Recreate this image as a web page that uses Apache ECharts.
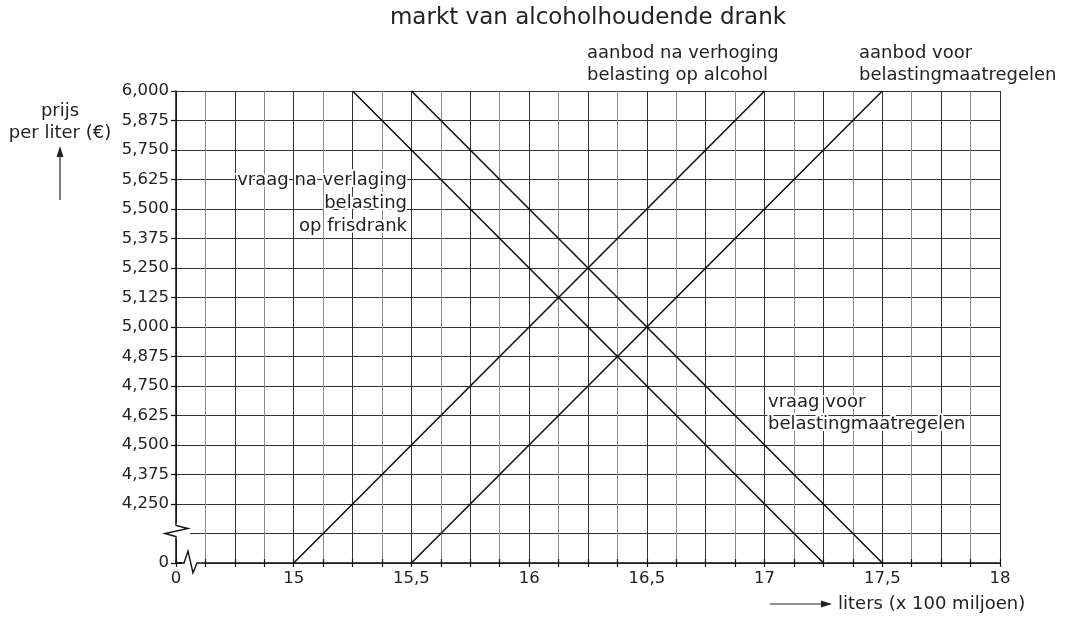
<!DOCTYPE html>
<html>
<head>
<meta charset="utf-8">
<script src="https://cdn.jsdelivr.net/npm/echarts@6/dist/echarts.min.js"></script>
<style>
  html, body { margin: 0; padding: 0; background: #fff; }
  #chart { width: 1068px; height: 619px; }
</style>
</head>
<body>
<div id="chart"></div>
<script>
// broken axes: x 14.5 stands for "0", y 4.0 stands for "0" (4.125 is the break)
var vraagVoor = [[15.5, 6.0], [17.5, 4.0]];
var vraagNa = [[15.25, 6.0], [17.25, 4.0]];
var aanbodVoor = [[15.5, 4.0], [17.5, 6.0]];
var aanbodNa = [[15, 4.0], [17, 6.0]];

var FONT = '"DejaVu Sans", "Liberation Sans", sans-serif';

function fmtX(v) {
    if (Math.abs(v - 14.5) < 1e-6) return '0';
    if (Math.abs(v * 2 - Math.round(v * 2)) < 1e-6) return String(+v.toFixed(1)).replace('.', ',');
    return '';
}
function fmtY(v) {
    if (Math.abs(v - 4) < 1e-6) return '0';
    if (Math.abs(v - 4.125) < 1e-6) return '';
    return v.toFixed(3).replace('.', ',');
}

function lineSeries(data) {
    return {
        type: 'line',
        data: data,
        symbol: 'none',
        z: 5,
        lineStyle: {color: '#111', width: 1.6}
    };
}

var myChart = echarts.init(document.getElementById('chart'));
var option = {
    animation: false,
    backgroundColor: '#fff',
    grid: {left: 176, right: 68, top: 91, bottom: 56},
    xAxis: [
        {
            type: 'value',
            min: 14.5,
            max: 18,
            interval: 0.125,
            axisLine: {lineStyle: {color: '#111', width: 1.5}},
            axisTick: {length: 4, lineStyle: {color: '#111', width: 1.2}},
            axisLabel: {formatter: fmtX, color: '#222', fontSize: 16.5, fontFamily: FONT, margin: 7},
            splitLine: {show: true, lineStyle: {color: ['#333', '#8a8a8a'], width: 1}}
        },
        {
            // inner half of the crossing ticks
            type: 'value',
            position: 'bottom',
            offset: 0,
            min: 14.5,
            max: 18,
            interval: 0.125,
            axisLine: {show: false},
            axisTick: {show: true, inside: true, length: 4, lineStyle: {color: '#111', width: 1.2}},
            axisLabel: {show: false},
            splitLine: {show: false}
        }
    ],
    yAxis: {
        type: 'value',
        min: 4,
        max: 6,
        interval: 0.125,
        axisLine: {show: true, lineStyle: {color: '#111', width: 1.5}},
        axisTick: {show: true, length: 5, lineStyle: {color: '#111', width: 1.2}},
        axisLabel: {formatter: fmtY, color: '#222', fontSize: 16.5, fontFamily: FONT, margin: 7},
        splitLine: {show: true, lineStyle: {color: '#333', width: 1}}
    },
    series: [
        lineSeries(vraagVoor),
        lineSeries(vraagNa),
        lineSeries(aanbodVoor),
        lineSeries(aanbodNa)
    ]
};
myChart.setOption(option);

function txt(x, y, text, align, extra) {
    var s = {
        text: text, x: x, y: y, fill: '#222',
        font: '18px ' + FONT,
        textAlign: align || 'left', textVerticalAlign: 'middle',
        lineHeight: 22
    };
    if (extra) for (var k in extra) s[k] = extra[k];
    return {type: 'text', z: 20, style: s};
}

var p0 = myChart.convertToPixel('grid', [14.5, 4.0]);
var pBreak = myChart.convertToPixel('grid', [14.5, 4.125]);

myChart.setOption({
    graphic: [
        txt(588, 18, 'markt van alcoholhoudende drank', 'center', {font: '23px ' + FONT}),
        txt(587, 64, 'aanbod na verhoging\nbelasting op alcohol', 'left'),
        txt(859, 64, 'aanbod voor\nbelastingmaatregelen', 'left'),
        txt(407, 203, 'vraag na verlaging\nbelasting\nop frisdrank', 'right',
            {stroke: '#fff', lineWidth: 4, lineHeight: 23}),
        txt(768, 413, 'vraag voor\nbelastingmaatregelen', 'left', {stroke: '#fff', lineWidth: 4}),
        txt(60, 122, 'prijs\nper liter (€)', 'center'),
        txt(838, 604, 'liters (x 100 miljoen)', 'left'),
        // axis arrows
        {type: 'line', z: 20, shape: {x1: 60, y1: 200, x2: 60, y2: 154}, style: {stroke: '#222', lineWidth: 1.2}},
        {type: 'polygon', z: 20, shape: {points: [[60, 146], [56.5, 157], [63.5, 157]]}, style: {fill: '#222'}},
        {type: 'line', z: 20, shape: {x1: 770, y1: 604, x2: 824, y2: 604}, style: {stroke: '#222', lineWidth: 1.2}},
        {type: 'polygon', z: 20, shape: {points: [[832, 604], [821, 600.5], [821, 607.5]]}, style: {fill: '#222'}},
        // y-axis break
        {type: 'rect', z: 15, shape: {x: pBreak[0] - 12, y: pBreak[1] - 11, width: 26, height: 17}, style: {fill: '#fff'}},
        {type: 'polyline', z: 16, shape: {points: [
            [pBreak[0], pBreak[1] - 12], [pBreak[0], pBreak[1] - 8], [pBreak[0] + 12, pBreak[1] - 5],
            [pBreak[0] - 11, pBreak[1] + 0], [pBreak[0], pBreak[1] + 3], [pBreak[0], pBreak[1] + 7]
        ]}, style: {stroke: '#111', lineWidth: 1.4, fill: null}},
        // x-axis break
        {type: 'rect', z: 15, shape: {x: p0[0] + 6, y: p0[1] - 5, width: 22, height: 10}, style: {fill: '#fff'}},
        {type: 'polyline', z: 16, shape: {points: [
            [p0[0], p0[1]], [p0[0] + 8, p0[1]], [p0[0] + 12, p0[1] - 12],
            [p0[0] + 17, p0[1] + 10], [p0[0] + 21, p0[1]], [p0[0] + 30, p0[1]]
        ]}, style: {stroke: '#111', lineWidth: 1.4, fill: null}}
    ]
});
</script>
</body>
</html>
